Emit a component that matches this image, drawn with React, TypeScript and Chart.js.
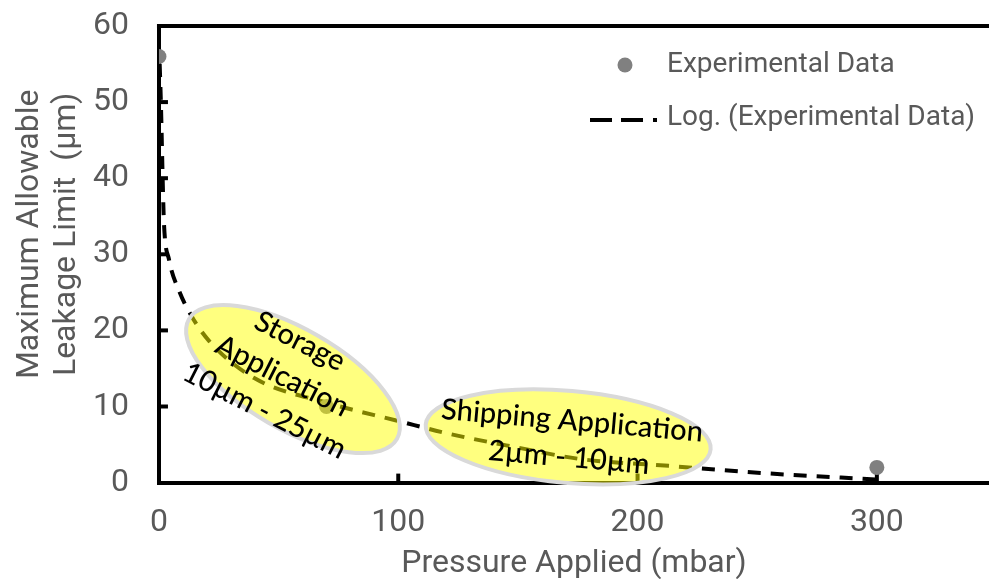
import React, { useEffect, useRef } from "react";
import { Chart, registerables } from "chart.js";

Chart.register(...registerables);

// ---- data ----
const xTicks = [0, 100, 200, 300];
const yTicks = [0, 10, 20, 30, 40, 50, 60];
const expX = [0, 70, 300];
const expY = [56, 10, 2];
const trendX = [0.3, 0.8, 1.7, 2.1, 4.2, 8.4, 13.4, 21, 40, 70, 100, 120, 150, 176, 213, 255, 300];
const trendY = [55, 50, 38, 34, 29.3, 25.2, 22, 18.6, 13.7, 10.5, 8.1, 6.5, 4.6, 3.1, 2.2, 1.2, 0.4];
const seriesNames = ["Experimental Data", "Log. (Experimental Data)"];
const xTitle = "Pressure Applied (mbar)";
const yTitle = ["Maximum Allowable", "Leakage Limit  (µm)"];
const storageLines = ["Storage", "Application", "10µm - 25µm"];
const shippingLines = ["Shipping Application", "2µm - 10µm"];

// ---- callout layout (data-space centres, pixel sizes) ----
const callouts = [
  { cx: 56, cy: 13.6, rx: 120, ry: 50, rot: 30, tx: 51.5, ty: 14.0, trot: 27, lines: storageLines, lh: 39 },
  { cx: 171, cy: 6.0, rx: 143, ry: 46, rot: 5, tx: 172, ty: 5.7, trot: 5, lines: shippingLines, lh: 37 },
];

const GREY = "#595959";
const FONT = "Roboto";

const zeroPad = (s: any) => {
  s.paddingTop = 0;
  s.paddingBottom = 0;
  s.paddingLeft = 0;
  s.paddingRight = 0;
};

const decorPlugin = {
  id: "decor",
  beforeDatasetsDraw(chart: any) {
    const { ctx, chartArea, scales } = chart;
    const x = scales.x, y = scales.y;
    ctx.save();
    ctx.strokeStyle = "#000";
    ctx.lineWidth = 4;
    ctx.beginPath();
    ctx.moveTo(chartArea.left - 2, y.getPixelForValue(60));
    ctx.lineTo(chart.width, y.getPixelForValue(60));
    ctx.stroke();
    for (const v of yTicks) {
      if (v === 0 || v === 60) continue;
      const py = y.getPixelForValue(v);
      ctx.beginPath();
      ctx.moveTo(chartArea.left, py);
      ctx.lineTo(chartArea.left + 9, py);
      ctx.stroke();
    }
    for (const v of xTicks) {
      if (v === 0) continue;
      const px = x.getPixelForValue(v);
      ctx.beginPath();
      ctx.moveTo(px, chartArea.bottom);
      ctx.lineTo(px, chartArea.bottom - 9);
      ctx.stroke();
    }
    ctx.restore();
  },
  afterDatasetsDraw(chart: any) {
    const { ctx, scales } = chart;
    const x = scales.x, y = scales.y;
    ctx.save();
    for (const c of callouts) {
      const px = x.getPixelForValue(c.cx);
      const py = y.getPixelForValue(c.cy);
      ctx.beginPath();
      ctx.ellipse(px, py, c.rx, c.ry, (c.rot * Math.PI) / 180, 0, Math.PI * 2);
      ctx.fillStyle = "rgba(255,255,0,0.5)";
      ctx.fill();
      ctx.lineWidth = 4;
      ctx.strokeStyle = "#d9d9d9";
      ctx.stroke();
    }
    for (const c of callouts) {
      const px = x.getPixelForValue(c.tx);
      const py = y.getPixelForValue(c.ty);
      ctx.save();
      ctx.translate(px, py);
      ctx.rotate((c.trot * Math.PI) / 180);
      ctx.fillStyle = "#000";
      ctx.font = "500 29px Lato";
      ctx.textAlign = "center";
      ctx.textBaseline = "middle";
      const n = c.lines.length;
      c.lines.forEach((t: string, i: number) => {
        ctx.fillText(t, 0, (i - (n - 1) / 2) * c.lh);
      });
      ctx.restore();
    }
    ctx.restore();
  },
  afterDraw(chart: any) {
    const { ctx, chartArea } = chart;
    ctx.save();
    ctx.font = `32px ${FONT}`;
    ctx.fillStyle = GREY;
    ctx.textAlign = "center";
    ctx.textBaseline = "middle";
    // x-axis title (centred on the visible part of the plot)
    ctx.fillText(xTitle, (chartArea.left + 989) / 2, chartArea.bottom + 81);
    // y-axis title (two lines, rotated)
    ctx.save();
    ctx.translate(0, (chartArea.top + chartArea.bottom) / 2 - 20);
    ctx.rotate(-Math.PI / 2);
    ctx.fillText(yTitle[0], 0, 30);
    ctx.fillText(yTitle[1], 0, 67);
    ctx.restore();
    // legend
    ctx.font = `28px ${FONT}`;
    ctx.textAlign = "left";
    ctx.beginPath();
    ctx.arc(625, 65, 7.5, 0, Math.PI * 2);
    ctx.fillStyle = "#808080";
    ctx.fill();
    ctx.fillStyle = GREY;
    ctx.fillText(seriesNames[0], 667, 65);
    ctx.strokeStyle = "#000";
    ctx.lineWidth = 4;
    ctx.beginPath();
    ctx.moveTo(590, 120); ctx.lineTo(612, 120);
    ctx.moveTo(621, 120); ctx.lineTo(643, 120);
    ctx.moveTo(653, 120); ctx.lineTo(657, 120);
    ctx.stroke();
    ctx.fillText(seriesNames[1], 667, 118);
    ctx.restore();
  },
};

export default function App() {
  const ref = useRef<HTMLCanvasElement>(null);
  useEffect(() => {
    document.body.style.margin = "0";
    const chart = new Chart(ref.current!, {
      type: "scatter",
      data: {
        datasets: [
          {
            label: seriesNames[0],
            data: expX.map((v, i) => ({ x: v, y: expY[i] })),
            backgroundColor: "#808080",
            borderWidth: 0,
            pointRadius: 7.5,
            order: 0,
          },
          {
            type: "line",
            label: seriesNames[1],
            data: trendX.map((v, i) => ({ x: v, y: trendY[i] })),
            borderColor: "#000",
            borderWidth: 4,
            borderDash: [13, 10],
            pointRadius: 0,
            showLine: true,
            fill: false,
            cubicInterpolationMode: "monotone",
            order: 1,
          } as any,
        ],
      },
      options: {
        animation: false,
        responsive: false,
        devicePixelRatio: 1,
        layout: { padding: { left: 63, right: 0, top: 26, bottom: 16 } },
        plugins: { legend: { display: false }, tooltip: { enabled: false } },
        scales: {
          x: {
            type: "linear",
            min: 0,
            max: 350,
            afterBuildTicks: (s: any) => {
              s.ticks = xTicks.map((v) => ({ value: v }));
            },
            afterFit: zeroPad,
            grid: { display: false, drawTicks: false },
            border: { color: "#000", width: 4 },
            ticks: { color: GREY, font: { family: FONT, size: 32 }, padding: 21 },
          },
          y: {
            min: 0,
            max: 60,
            afterBuildTicks: (s: any) => {
              s.ticks = yTicks.map((v) => ({ value: v }));
            },
            afterFit: zeroPad,
            grid: { display: false, drawTicks: false },
            border: { color: "#000", width: 4 },
            ticks: { color: GREY, font: { family: FONT, size: 32 }, padding: 30 },
          },
        },
      },
      plugins: [decorPlugin],
    });
    return () => chart.destroy();
  }, []);
  return (
    <div style={{ width: 989, height: 579, overflow: "hidden" }}>
      <canvas ref={ref} width={1004} height={579} style={{ display: "block" }} />
    </div>
  );
}
